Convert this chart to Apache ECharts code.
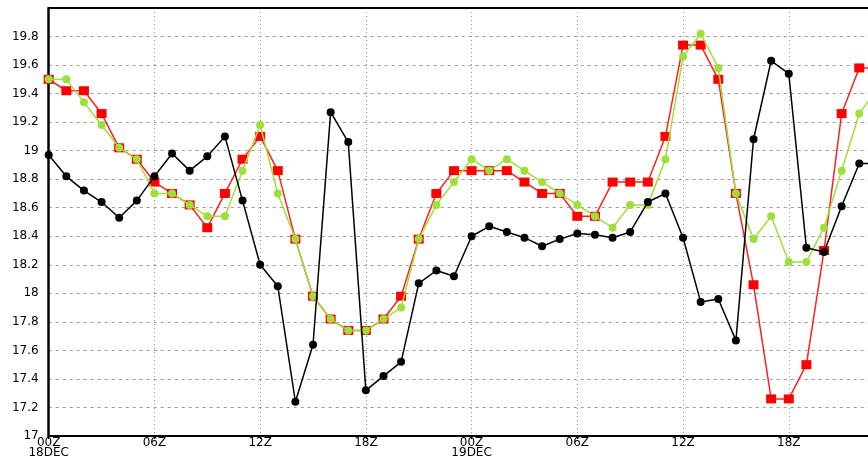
<!DOCTYPE html>
<html>
<head>
<meta charset="utf-8">
<script src="https://cdn.jsdelivr.net/npm/echarts@6/dist/echarts.min.js"></script>
<style>html,body{margin:0;padding:0;background:#fff}#c{width:868px;height:459px}</style>
</head>
<body>
<div id="c"></div>
<script>
// hours since 18DEC 00Z
const hours = [0,1,2,3,4,5,6,7,8,9,10,11,12,13,14,15,16,17,18,19,20,21,22,23,24,25,26,27,28,29,30,31,32,33,34,35,36,37,38,39,40,41,42,43,44,45,46,47];
const blackVals = [18.97,18.82,18.72,18.64,18.53,18.65,18.82,18.98,18.86,18.96,19.10,18.65,18.20,18.05,17.24,17.64,19.27,19.06,17.32,17.42,17.52,18.07,18.16,18.12,18.40,18.47,18.43,18.39,18.33,18.38,18.42,18.41,18.39,18.43,18.64,18.70,18.39,17.94,17.96,17.67,19.08,19.63,19.54,18.32,18.29,18.61,18.91,18.91];
const redVals = [19.50,19.42,19.42,19.26,19.02,18.94,18.78,18.70,18.62,18.46,18.70,18.94,19.10,18.86,18.38,17.98,17.82,17.74,17.74,17.82,17.98,18.38,18.70,18.86,18.86,18.86,18.86,18.78,18.70,18.70,18.54,18.54,18.78,18.78,18.78,19.10,19.74,19.74,19.50,18.70,18.06,17.26,17.26,17.50,18.30,19.26,19.58,19.58];
const greenVals = [19.50,19.50,19.34,19.18,19.02,18.94,18.70,18.70,18.62,18.54,18.54,18.86,19.18,18.70,18.38,17.98,17.82,17.74,17.74,17.82,17.90,18.38,18.62,18.78,18.94,18.86,18.94,18.86,18.78,18.70,18.62,18.54,18.46,18.62,18.62,18.94,19.66,19.82,19.58,18.70,18.38,18.54,18.22,18.22,18.46,18.86,19.26,19.43];
const tickHours = [0,6,12,18,24,30,36,42];
const tickLabels = ['00Z\n18DEC','06Z','12Z','18Z','00Z\n19DEC','06Z','12Z','18Z'];

const pairs = v => hours.map((h,i)=>[h, v[i]]);
const font = {fontFamily:'DejaVu Sans', fontSize:12, color:'#000'};

const chart = echarts.init(document.getElementById('c'), null, {renderer:'canvas'});
chart.setOption({
  animation:false,
  backgroundColor:'#fff',
  grid:{left:48.7, top:8, width:845.8, height:428, containLabel:false, outerBoundsMode:'none'},
  xAxis:[{
    type:'value', min:0, max:48, interval:6,
    axisLine:{show:true, lineStyle:{color:'#000', width:2}},
    axisTick:{show:true, length:3, lineStyle:{color:'#000'}},
    axisLabel:Object.assign({margin:2, lineHeight:10, verticalAlign:'top',
      formatter:v=>{const k=tickHours.indexOf(v);return k<0?'':tickLabels[k];}}, font),
    splitLine:{show:true, lineStyle:{color:'#9a9a9a', type:[1,3], width:1}}
  },{
    type:'value', position:'top', min:0, max:48,
    axisLine:{show:true, lineStyle:{color:'#000', width:2}},
    axisTick:{show:false}, axisLabel:{show:false}, splitLine:{show:false}
  }],
  yAxis:{
    type:'value', min:17, max:20, interval:0.2,
    axisLine:{show:true, lineStyle:{color:'#000', width:2.5}},
    axisTick:{show:false},
    axisLabel:Object.assign({margin:10,
      formatter:v=>Math.abs(v-20)<1e-6?'':String(+v.toFixed(1))}, font),
    splitLine:{show:true, lineStyle:{color:'#9a9a9a', type:[3,4], width:1}}
  },
  series:[
    {type:'line', data:pairs(redVals), symbol:'rect', symbolSize:[10,9],
      itemStyle:{color:'#ff0000'}, lineStyle:{color:'#ff2020', width:1.5}, z:2},
    {type:'line', data:pairs(greenVals), symbol:'circle', symbolSize:8,
      itemStyle:{color:'#9ee03a'}, lineStyle:{color:'#9ee03a', width:1.5}, z:3},
    {type:'line', data:pairs(blackVals), symbol:'circle', symbolSize:8,
      itemStyle:{color:'#000'}, lineStyle:{color:'#000', width:1.5}, z:4}
  ]
});
</script>
</body>
</html>
